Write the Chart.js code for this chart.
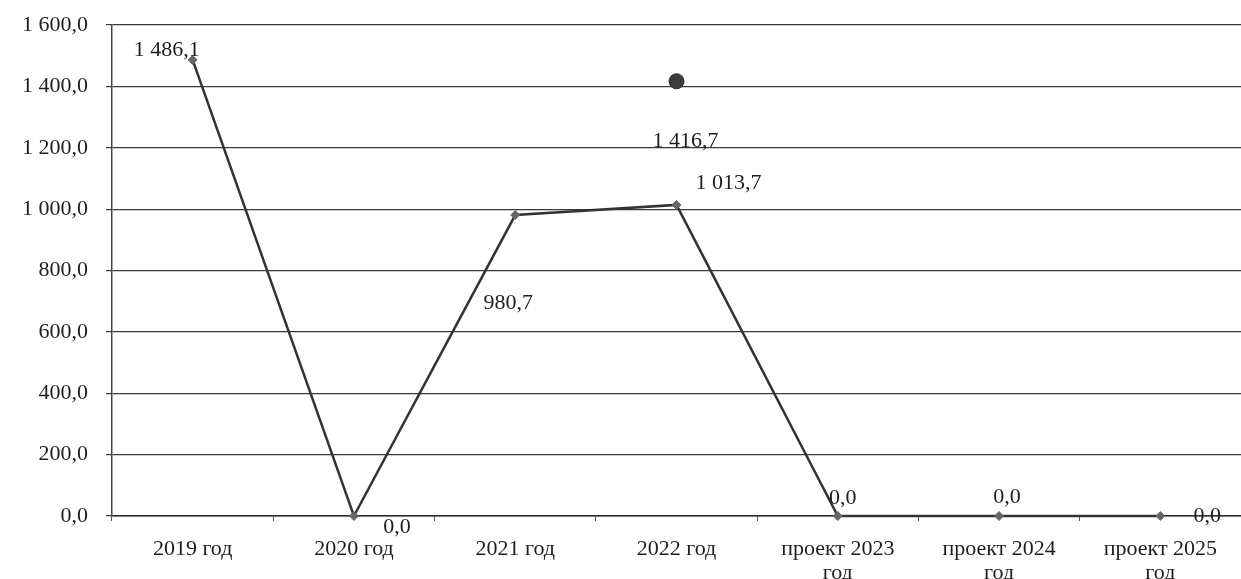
<!DOCTYPE html>
<html>
<head>
<meta charset="utf-8">
<script src="https://cdn.jsdelivr.net/npm/chart.js@4.4.1/dist/chart.umd.min.js"></script>
<style>
  html, body { margin: 0; padding: 0; background: #fff; overflow: hidden; }
  #wrap { width: 1241px; height: 579px; position: relative; }
</style>
</head>
<body>
<div id="wrap"><canvas id="grafico"></canvas></div>
<script>
// datos del gráfico
const categorias = [
    '2019 год', '2020 год', '2021 год', '2022 год',
    ['проект 2023', 'год'], ['проект 2024', 'год'], ['проект 2025', 'год']
];
const valores = [1486.1, 0.0, 980.7, 1013.7, 0.0, 0.0, 0.0];
const puntoAparte = [null, null, null, 1416.7, null, null, null];
const ticksY = [0, 200, 400, 600, 800, 1000, 1200, 1400, 1600];

// desplazamiento de las etiquetas (px) respecto a cada punto
const offsetsLinea = [[-26, -10], [43, 11], [-7, 88], [52, -22], [5, -18], [8, -19], [47, 0]];
const offsetsAparte = [null, null, null, [9, 60], null, null, null];

const FUENTE = '"Liberation Serif", "DejaVu Serif", serif';

// formato ruso: espacio de miles y coma decimal
function formatoNum(v) {
    const partes = Number(v).toFixed(1).split('.');
    const entero = partes[0].replace(/\B(?=(\d{3})+(?!\d))/g, ' ');
    return entero + ',' + partes[1];
}

// plugin para dibujar las etiquetas de datos
const etiquetasPlugin = {
    id: 'etiquetas',
    afterDatasetsDraw(chart) {
        const ctx = chart.ctx;
        ctx.save();
        ctx.font = '22px ' + FUENTE;
        ctx.fillStyle = '#1e1e1e';
        ctx.textAlign = 'center';
        ctx.textBaseline = 'middle';
        const listas = [offsetsLinea, offsetsAparte];
        chart.data.datasets.forEach((ds, i) => {
            const meta = chart.getDatasetMeta(i);
            meta.data.forEach((pt, j) => {
                const v = ds.data[j];
                const off = listas[i][j];
                if (v === null || !off) return;
                ctx.fillText(formatoNum(v), pt.x + off[0], pt.y + off[1]);
            });
        });
        ctx.restore();
    }
};

const config = {
    type: 'line',
    data: {
        labels: categorias,
        datasets: [{
            label: 'Serie',
            data: valores,
            clip: false,
            borderColor: '#333',
            borderWidth: 2.5,
            tension: 0,
            pointStyle: 'rectRot',
            pointRadius: 4.5,
            pointBackgroundColor: '#666',
            pointBorderColor: '#666',
            pointBorderWidth: 1
        }, {
            label: 'Punto',
            data: puntoAparte,
            clip: false,
            showLine: false,
            pointStyle: 'circle',
            pointRadius: 7.5,
            pointBackgroundColor: '#3c3c3c',
            pointBorderColor: '#2a2a2a',
            pointBorderWidth: 1
        }]
    },
    options: {
        responsive: true,
        maintainAspectRatio: false,
        animation: false,
        layout: { autoPadding: false, padding: { top: 25, right: 0, bottom: 0, left: 0 } },
        plugins: {
            legend: { display: false },
            tooltip: { enabled: false }
        },
        scales: {
            x: {
                offset: true,
                grid: {
                    offset: true,
                    drawOnChartArea: false,
                    drawTicks: true,
                    tickLength: 5,
                    color: '#555'
                },
                border: { display: true, color: '#2a2a2a', width: 1.5 },
                ticks: {
                    autoSkip: false,
                    maxRotation: 0,
                    minRotation: 0,
                    padding: 16,
                    color: '#1e1e1e',
                    font: { family: FUENTE, size: 22, lineHeight: 1.1 }
                },
                afterFit(scale) {
                    scale.height = 63;
                    scale.paddingLeft = 0;
                    scale.paddingRight = 0;
                }
            },
            y: {
                min: 0,
                max: 1600,
                afterBuildTicks(scale) { scale.ticks = ticksY.map(v => ({ value: v })); },
                grid: {
                    color: '#3a3a3a',
                    lineWidth: 1.2,
                    drawTicks: true,
                    tickLength: 6
                },
                border: { display: true, color: '#444', width: 1.5 },
                ticks: {
                    color: '#1e1e1e',
                    padding: 18,
                    font: { family: FUENTE, size: 22 },
                    callback: (v) => formatoNum(v)
                },
                afterFit(scale) {
                    scale.width = 112;
                    scale.paddingTop = 0;
                    scale.paddingBottom = 0;
                }
            }
        }
    },
    plugins: [etiquetasPlugin]
};

new Chart(document.getElementById('grafico'), config);
</script>
</body>
</html>
